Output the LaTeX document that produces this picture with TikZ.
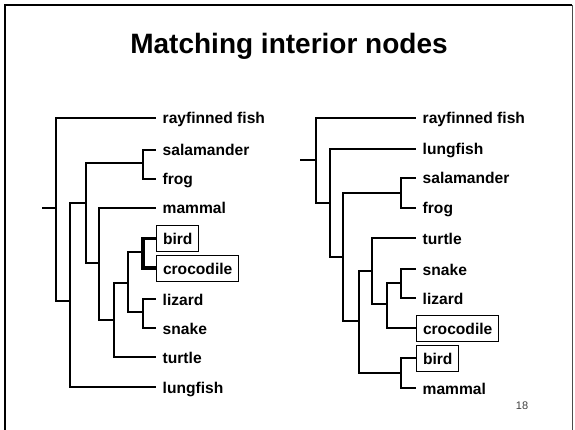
\documentclass[tikz,border=0pt]{standalone}
\usepackage{fontspec}
\setmainfont{Liberation Sans}
\begin{document}
\begin{tikzpicture}[x=1pt,y=-1pt,
  branch/.style={line width=1.3pt,line join=miter},
  hot/.style={line width=3.4pt,line join=miter},
  leaf/.style={anchor=west,inner xsep=6.5pt,inner ysep=6pt,text height=13pt,text depth=1pt,font=\fontsize{15.6}{18}\selectfont\bfseries},
  boxed/.style={leaf,draw,line width=1pt},
  frame/.style={line width=2pt}]
\useasboundingbox (0,0) rectangle (575,430);
% frame
\draw[frame] (5,432) -- (5,5) -- (572,5);
\draw[line width=1pt,black!70] (572,5) -- (572,432);
% title
\node[anchor=base,font=\fontsize{28}{33}\selectfont\bfseries] (title) at (289,54) {Matching interior nodes};
% page number
\node[font=\fontsize{11}{13}\selectfont,text=black!75] (pg) at (522,406) {18};

% ---------- left tree ----------
\node[leaf] (Lray) at (156,118) {rayfinned fish};
\node[leaf] (Lsal) at (156,150) {salamander};
\node[leaf] (Lfrog) at (156,179) {frog};
\node[leaf] (Lmam) at (156,208) {mammal};
\node[boxed] (Lbird) at (156,238.5) {bird};
\node[boxed] (Lcroc) at (156,268) {crocodile};
\node[leaf] (Lliz) at (156,299) {lizard};
\node[leaf] (Lsnk) at (156,328) {snake};
\node[leaf] (Ltur) at (156,357) {turtle};
\node[leaf] (Llung) at (156,387) {lungfish};

\coordinate (Lstub) at (42,208);
\coordinate (Lroot) at (56,208);
\coordinate (LA) at (70,301);
\coordinate (LB) at (86,203);
\coordinate (LSF) at (143,163);
\coordinate (LC) at (99,263);
\coordinate (LD) at (114,320);
\coordinate (LE) at (128,283);
\coordinate (LF) at (143,252);
\coordinate (LG) at (143,312);

\draw[branch] (Lstub) -- (Lroot);
\draw[branch] (Lroot) |- (Lray.west);
\draw[branch] (Lroot) |- (LA);
\draw[branch] (LA) |- (LB);
\draw[branch] (LA) |- (Llung.west);
\draw[branch] (LB) |- (LSF);
\draw[branch] (LSF) |- (Lsal.west);
\draw[branch] (LSF) |- (Lfrog.west);
\draw[branch] (LB) |- (LC);
\draw[branch] (LC) |- (Lmam.west);
\draw[branch] (LC) |- (LD);
\draw[branch] (LD) |- (LE);
\draw[branch] (LD) |- (Ltur.west);
\draw[branch] (LE) |- (LF);
\draw[branch] (LE) |- (LG);
\draw[hot] (LF) |- (Lbird.west);
\draw[hot] (LF) |- (Lcroc.west);
\draw[branch] (LG) |- (Lliz.west);
\draw[branch] (LG) |- (Lsnk.west);

% ---------- right tree ----------
\node[leaf] (Rray) at (416,118) {rayfinned fish};
\node[leaf] (Rlung) at (416,149) {lungfish};
\node[leaf] (Rsal) at (416,178) {salamander};
\node[leaf] (Rfrog) at (416,208) {frog};
\node[leaf] (Rtur) at (416,238) {turtle};
\node[leaf] (Rsnk) at (416,269) {snake};
\node[leaf] (Rliz) at (416,298) {lizard};
\node[boxed] (Rcroc) at (416,328) {crocodile};
\node[boxed] (Rbird) at (416,358) {bird};
\node[leaf] (Rmam) at (416,388) {mammal};

\coordinate (Rstub) at (300,160);
\coordinate (Rroot) at (316,160);
\coordinate (RA) at (330,203);
\coordinate (RB) at (343,257);
\coordinate (RSF) at (401,193);
\coordinate (RC) at (359,321);
\coordinate (RD) at (372,271);
\coordinate (RE) at (387,304);
\coordinate (RSL) at (401,283);
\coordinate (RBM) at (401,373);

\draw[branch] (Rstub) -- (Rroot);
\draw[branch] (Rroot) |- (Rray.west);
\draw[branch] (Rroot) |- (RA);
\draw[branch] (RA) |- (Rlung.west);
\draw[branch] (RA) |- (RB);
\draw[branch] (RB) |- (RSF);
\draw[branch] (RSF) |- (Rsal.west);
\draw[branch] (RSF) |- (Rfrog.west);
\draw[branch] (RB) |- (RC);
\draw[branch] (RC) |- (RD);
\draw[branch] (RC) |- (RBM);
\draw[branch] (RD) |- (Rtur.west);
\draw[branch] (RD) |- (RE);
\draw[branch] (RE) |- (RSL);
\draw[branch] (RE) |- (Rcroc.west);
\draw[branch] (RSL) |- (Rsnk.west);
\draw[branch] (RSL) |- (Rliz.west);
\draw[branch] (RBM) |- (Rbird.west);
\draw[branch] (RBM) |- (Rmam.west);
\end{tikzpicture}
\end{document}
